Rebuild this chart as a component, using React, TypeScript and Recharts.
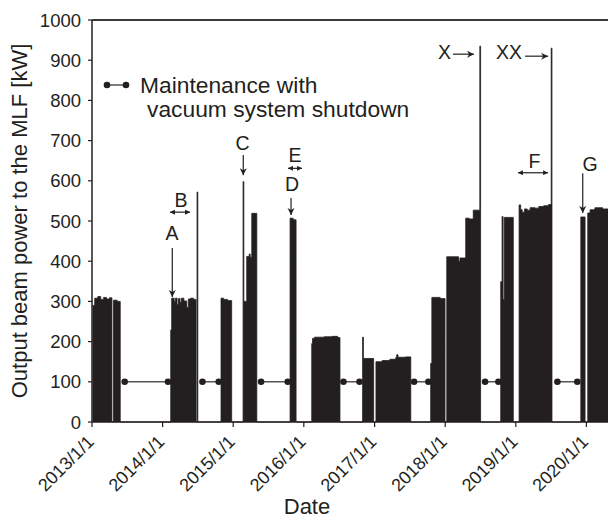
import React from "react";
import {
  ComposedChart,
  Area,
  Line,
  XAxis,
  YAxis,
  ReferenceLine,
  ReferenceDot,
  Legend,
} from "recharts";

const INK = "#231f20";
const FONT = "'Liberation Sans', Arial, Helvetica, sans-serif";

// days counted from 2013/1/1, power (kW)
const powerDays = [
  0, 5, 14, 30, 45, 60, 75, 90, 103, 111, 130, 146,
  407, 412, 425, 432, 440, 447, 455, 462, 475, 490, 498, 510, 525, 538, 543, 547,
  667, 680, 700, 722,
  781, 785, 800, 813, 818, 826, 852,
  1024, 1040, 1055,
  1136, 1140, 1150, 1200, 1240, 1270, 1282,
  1399, 1403, 1456, 1468, 1500, 1540, 1570, 1575, 1582, 1620, 1648,
  1751, 1757, 1800, 1825, 1834, 1895, 1902, 1932, 1950, 1971, 2005, 2009,
  2113, 2120, 2125, 2131, 2178,
  2208, 2216, 2224, 2236, 2250, 2265, 2290, 2310, 2335, 2360, 2374, 2378,
  2527, 2549, 2563, 2575, 2600, 2640, 2700, 2740,
];
const powerKW = [
  0, 290, 308, 312, 305, 310, 306, 309, 0, 303, 300, 0,
  229, 308, 300, 308, 292, 307, 298, 308, 301, 285, 306, 308, 305, 0, 572, 0,
  308, 305, 302, 0,
  598, 300, 412, 418, 410, 519, 0,
  507, 503, 0,
  195, 208, 211, 212, 213, 210, 0,
  211, 158, 0, 150, 153, 156, 160, 167, 161, 162, 0,
  146, 310, 307, 0, 411, 400, 408, 507, 505, 527, 935, 0,
  349, 511, 305, 509, 0,
  540, 528, 522, 530, 527, 533, 532, 536, 538, 541, 930, 0,
  510, 0, 520, 528, 533, 530, 531, 530,
];

// maintenance with vacuum system shutdown (start / end day)
const maintStart = [169, 571, 874, 1300, 1665, 2032, 2406];
const maintEnd = [393, 655, 1012, 1383, 1739, 2101, 2509];
const maintLevel = 100;

const yearTicks = [0, 365, 730, 1095, 1461, 1826, 2191, 2556];
const yearLabels = [
  "2013/1/1",
  "2014/1/1",
  "2015/1/1",
  "2016/1/1",
  "2017/1/1",
  "2018/1/1",
  "2019/1/1",
  "2020/1/1",
];
const kwTicks = [0, 100, 200, 300, 400, 500, 600, 700, 800, 900, 1000];

// annotation letters
const noteText = ["A", "B", "C", "D", "E", "F", "G", "X", "XX"];
const noteDay = [414, 460, 778, 1034, 1049, 2288, 2575, 1822, 2156];
const noteKW = [470, 553, 694, 591, 664, 650, 641, 921, 921];

// annotation arrows
const arrowX1 = [415, 403, 782, 1029, 1013, 2202, 2537, 1866, 2239];
const arrowY1 = [433, 522, 664, 557, 631, 620, 619, 915, 910];
const arrowX2 = [415, 507, 782, 1029, 1086, 2358, 2537, 1975, 2358];
const arrowY2 = [311, 522, 614, 515, 631, 620, 520, 915, 910];
const arrowBoth = [false, true, false, false, true, true, false, false, false];

const powerData = powerDays.map((d, i) => ({ day: d, kw: powerKW[i] }));

const maintData = maintStart.flatMap((s, i) => [
  { day: s, m: maintLevel },
  { day: maintEnd[i], m: maintLevel },
  { day: maintEnd[i] + 1, m: null },
]);

const DateTick = (props: any) => {
  const { x, y, payload } = props;
  const label = yearLabels[yearTicks.indexOf(payload.value)];
  const tx = x + 3;
  const ty = y + 14;
  return (
    <text
      x={tx}
      y={ty}
      transform={`rotate(-45, ${tx}, ${ty})`}
      textAnchor="end"
      fontSize={18}
      fontFamily={FONT}
      fill={INK}
    >
      {label}
    </text>
  );
};

const MaintLegend = () => (
  <svg width={440} height={130} style={{ overflow: "visible" }}>
    <line x1={107} y1={85} x2={126} y2={85} stroke="#555" strokeWidth={1.5} />
    <circle cx={107} cy={85} r={3.3} fill={INK} />
    <circle cx={126} cy={85} r={3.3} fill={INK} />
    <text x={140} y={93} fontSize={22.8} fontFamily={FONT} fill={INK}>
      Maintenance with
    </text>
    <text x={147} y={117} fontSize={22.8} fontFamily={FONT} fill={INK}>
      vacuum system shutdown
    </text>
  </svg>
);

const App = () => {
  return (
    <div
      style={{
        position: "absolute",
        left: 0,
        top: 0,
        width: 608,
        height: 519,
        overflow: "hidden",
        background: "#fff",
      }}
    >
      <svg width={0} height={0} style={{ position: "absolute" }}>
        <defs>
          <marker
            id="head"
            viewBox="0 0 10 10"
            refX="10"
            refY="5"
            markerWidth="7"
            markerHeight="8"
            markerUnits="userSpaceOnUse"
            orient="auto-start-reverse"
          >
            <path d="M0,0 L10,5 L0,10 L3,5 z" fill={INK} />
          </marker>
          <marker
            id="small"
            viewBox="0 0 10 10"
            refX="10"
            refY="5"
            markerWidth="5"
            markerHeight="5"
            markerUnits="userSpaceOnUse"
            orient="auto-start-reverse"
          >
            <path d="M0,0 L10,5 L0,10 z" fill={INK} />
          </marker>
        </defs>
      </svg>
      <ComposedChart
        width={640}
        height={519}
        margin={{ top: 20, right: 18, left: 0, bottom: 0 }}
        style={{ fontFamily: FONT }}
      >
        <XAxis
          dataKey="day"
          type="number"
          domain={[0, 2740]}
          allowDataOverflow
          ticks={yearTicks}
          tick={<DateTick />}
          tickSize={5}
          height={97}
          axisLine={{ stroke: INK, strokeWidth: 1.5 }}
          tickLine={{ stroke: INK, strokeWidth: 1.2 }}
          interval={0}
          label={{
            value: "Date",
            position: "center",
            dx: -50,
            dy: 36,
            fontSize: 22,
            fill: INK,
          }}
        />
        <YAxis
          type="number"
          domain={[0, 1000]}
          ticks={kwTicks}
          width={92}
          tickSize={4}
          tickMargin={7}
          interval={0}
          axisLine={{ stroke: INK, strokeWidth: 1.5 }}
          tickLine={{ stroke: INK, strokeWidth: 1.2 }}
          tick={{ fontSize: 18.5, fill: INK, fontFamily: FONT }}
          label={{
            value: "Output beam power to the MLF [kW]",
            angle: -90,
            position: "center",
            dx: -27,
            fontSize: 22,
            fill: INK,
          }}
        />
        <ReferenceLine y={1000} stroke="#3a3a3a" strokeWidth={2} />
        <Area
          data={powerData}
          dataKey="kw"
          type="stepAfter"
          stroke={INK}
          strokeWidth={0.8}
          fill={INK}
          fillOpacity={1}
          isAnimationActive={false}
          dot={false}
          activeDot={false}
        />
        <Line
          data={maintData}
          dataKey="m"
          stroke="#555"
          strokeWidth={1.5}
          connectNulls={false}
          dot={{ r: 3.3, fill: INK, stroke: INK, strokeWidth: 0 }}
          activeDot={false}
          isAnimationActive={false}
        />
        {arrowX1.map((x1, i) => (
          <ReferenceLine
            key={`arrow-${i}`}
            segment={[
              { x: x1, y: arrowY1[i] },
              { x: arrowX2[i], y: arrowY2[i] },
            ]}
            stroke={INK}
            strokeWidth={1.2}
            markerEnd={arrowBoth[i] ? "url(#small)" : "url(#head)"}
            markerStart={arrowBoth[i] ? "url(#small)" : undefined}
          />
        ))}
        {noteText.map((t, i) => (
          <ReferenceDot
            key={`note-${i}`}
            x={noteDay[i]}
            y={noteKW[i]}
            r={0}
            fill="none"
            stroke="none"
            label={{ value: t, position: "center", fontSize: 19.5, fill: INK }}
          />
        ))}
        <Legend
          layout="horizontal"
          verticalAlign="middle"
          align="center"
          wrapperStyle={{ position: "absolute", left: 0, top: 0, width: 440, height: 130 }}
          content={() => <MaintLegend />}
        />
      </ComposedChart>
    </div>
  );
};

export default App;
